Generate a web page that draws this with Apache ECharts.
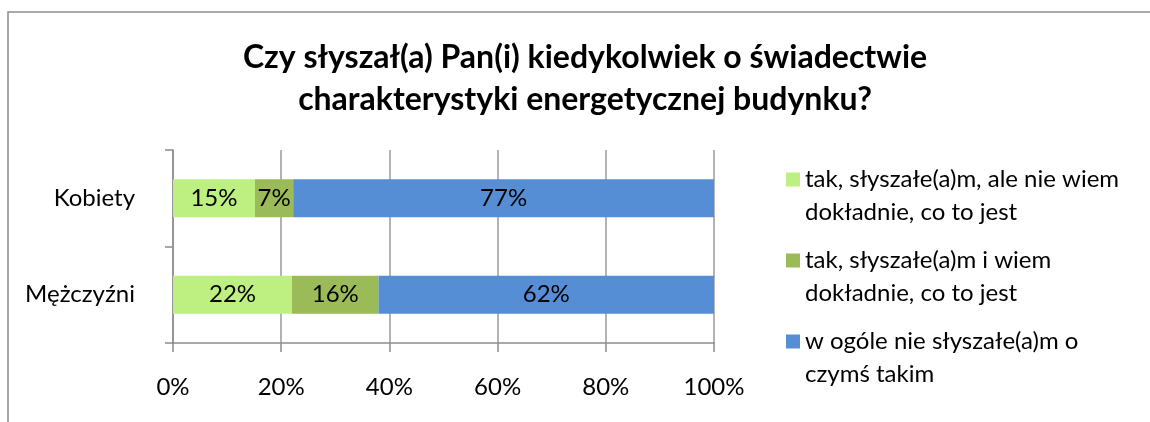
<!DOCTYPE html>
<html>
<head>
<meta charset="utf-8">
<script src="https://cdn.jsdelivr.net/npm/echarts@6/dist/echarts.min.js"></script>
<style>
  html, body { margin: 0; padding: 0; background: #fff; }
  #chart { width: 1150px; height: 422px; }
</style>
</head>
<body>
<div id="chart"></div>
<script>
// values (percent of respondents)
const categories = ["Kobiety", "Mężczyźni"];
const seriesNames = [
  "tak, słyszałe(a)m, ale nie wiem dokładnie, co to jest",
  "tak, słyszałe(a)m i wiem dokładnie, co to jest",
  "w ogóle nie słyszałe(a)m o czymś takim"
];
const legendLines = [
  ["tak, słyszałe(a)m, ale nie wiem", "dokładnie, co to jest"],
  ["tak, słyszałe(a)m i wiem", "dokładnie, co to jest"],
  ["w ogóle nie słyszałe(a)m o", "czymś takim"]
];
const heardNotKnow = [15, 22];
const heardKnow = [7, 16];
const notHeard = [77, 62];
const xTicks = [0, 20, 40, 60, 80, 100];
const colors = ["#bdf080", "#9bbb59", "#558ed5"];
const titleLines = [
  "Czy słyszał(a) Pan(i) kiedykolwiek o świadectwie",
  "charakterystyki energetycznej budynku?"
];

const FONT = "Lato";
const rows = [heardNotKnow, heardKnow, notHeard];
// 100% stacked: every category is scaled to its own total
const totals = categories.map((c, i) => rows.reduce((s, r) => s + r[i], 0));

const chart = echarts.init(document.getElementById("chart"));
chart.setOption({
  animation: false,
  textStyle: { fontFamily: FONT },
  title: {
    text: titleLines.join("\n"),
    left: 585, // centre of the title in the original
    textAlign: "center",
    top: 37,
    padding: 0,
    textStyle: { fontFamily: FONT, fontSize: 32, fontWeight: "bold", color: "#000", lineHeight: 42 }
  },
  graphic: [{
    type: "polyline",
    shape: { points: [[8, 422], [8, 12], [1150, 12]] },
    style: { stroke: "#8c8c8c", lineWidth: 1.5, fill: null }
  }],
  legend: {
    orient: "vertical",
    left: 781,
    top: 125,
    itemWidth: 14,
    itemHeight: 14,
    itemGap: -18,
    icon: "rect",
    // leading empty line so the square sits next to the first line
    formatter: name => "\n" + legendLines[seriesNames.indexOf(name)].join("\n"),
    textStyle: { fontFamily: FONT, fontSize: 24, color: "#000", lineHeight: 33 }
  },
  grid: { left: 173, right: 436, top: 150, bottom: 79 },
  xAxis: {
    type: "value",
    min: xTicks[0],
    max: xTicks[xTicks.length - 1],
    interval: xTicks[1] - xTicks[0],
    axisLine: { show: true, lineStyle: { color: "#8c8c8c", width: 1.5 } },
    axisTick: { show: true, length: 9, lineStyle: { color: "#8c8c8c", width: 1.5 } },
    splitLine: { show: true, lineStyle: { color: "#9a9a9a", width: 1.5 } },
    axisLabel: { formatter: "{value}%", fontFamily: FONT, fontSize: 24, color: "#000", margin: 32 }
  },
  yAxis: {
    type: "category",
    inverse: true,
    data: categories,
    axisLine: { show: true, lineStyle: { color: "#8c8c8c", width: 1.5 } },
    axisTick: { show: true, length: 8, lineStyle: { color: "#8c8c8c", width: 1.5 } },
    axisLabel: { fontFamily: FONT, fontSize: 24, color: "#000", margin: 38 }
  },
  series: rows.map((r, k) => ({
    name: seriesNames[k],
    type: "bar",
    stack: "all",
    barWidth: 38,
    itemStyle: { color: colors[k] },
    label: {
      show: true,
      position: "inside",
      fontFamily: FONT,
      fontSize: 24,
      color: "#000",
      formatter: p => p.data.raw + "%"
    },
    data: r.map((v, i) => ({ value: v / totals[i] * 100, raw: v }))
  }))
});
</script>
</body>
</html>
